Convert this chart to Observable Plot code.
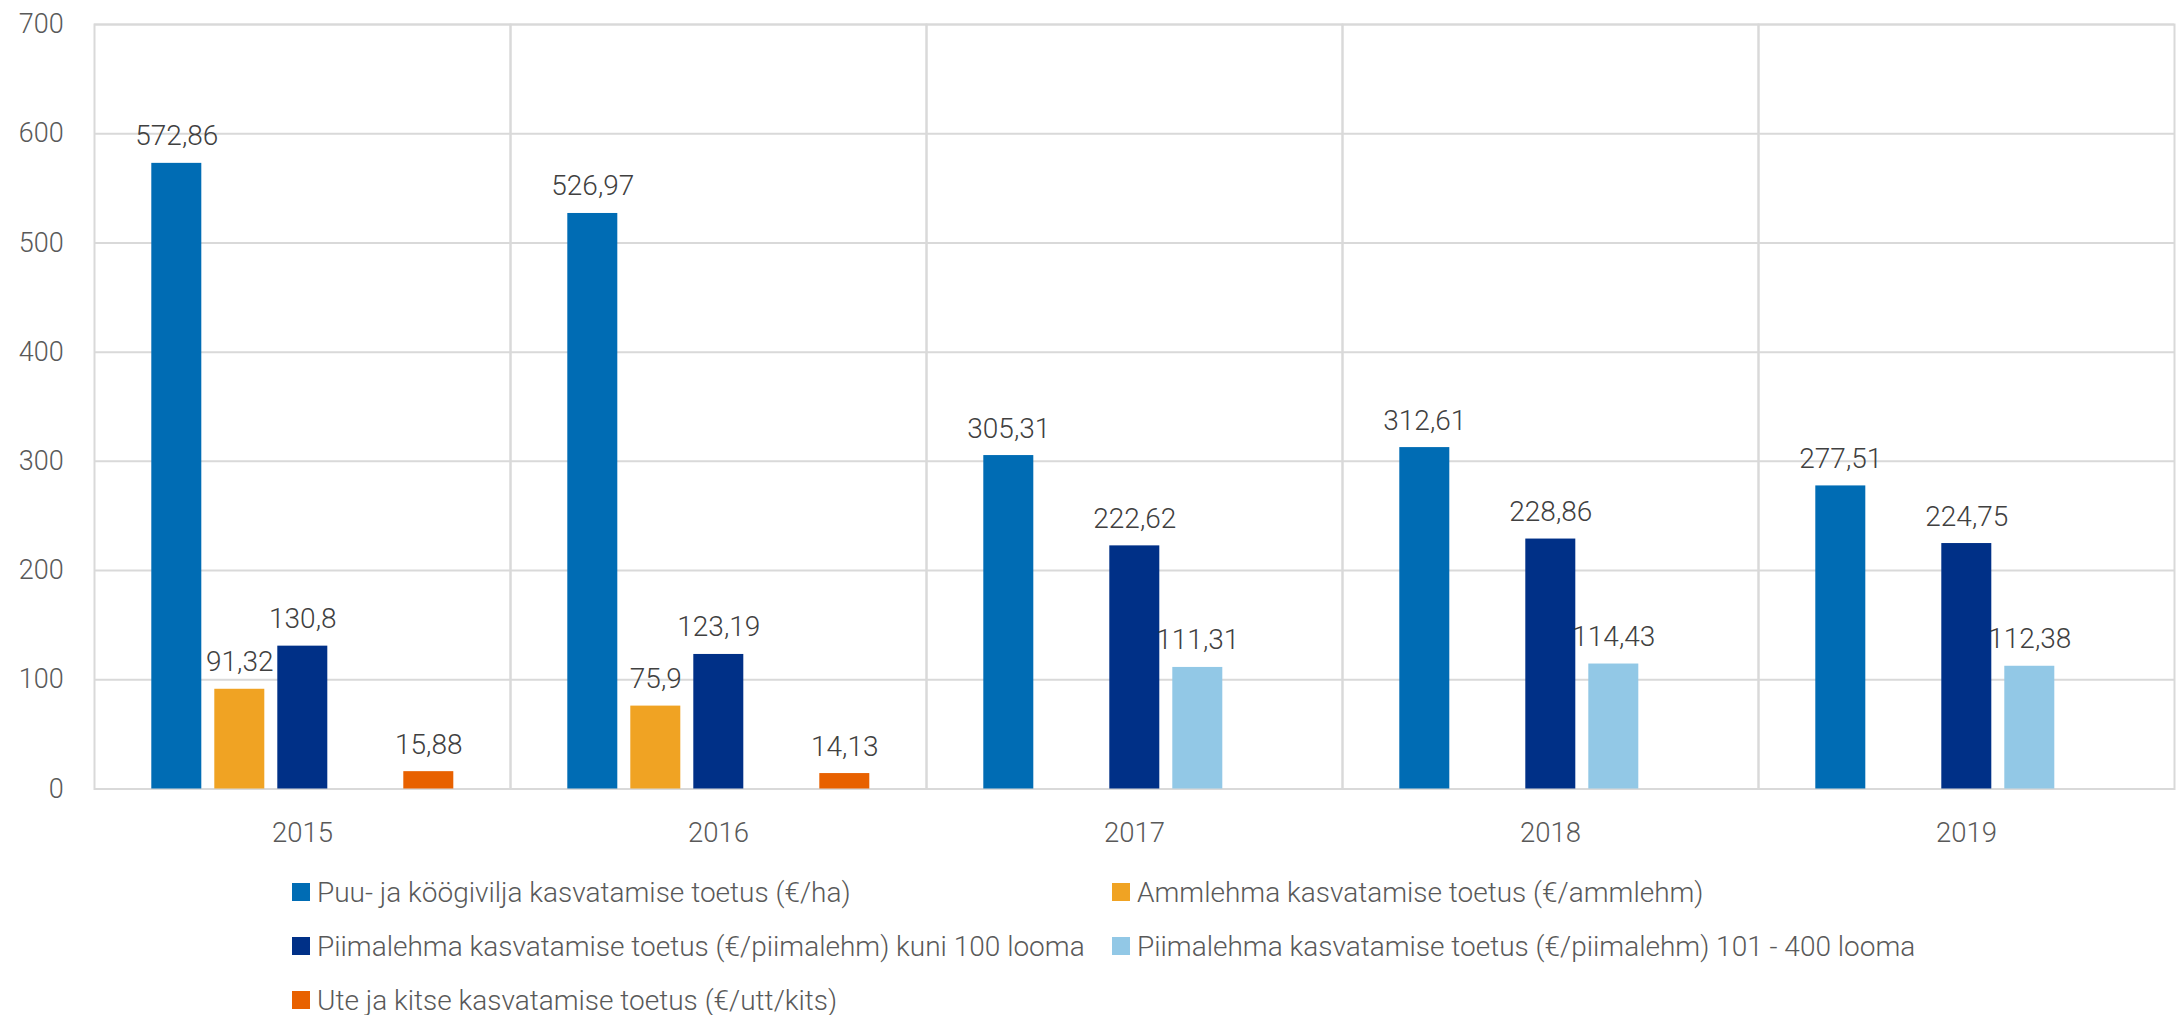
<!DOCTYPE html>
<html>
<head>
<meta charset="utf-8">
<script src="https://cdn.jsdelivr.net/npm/d3@7"></script>
<script src="https://cdn.jsdelivr.net/npm/@observablehq/plot@0.6"></script>
<style>
  html, body { margin: 0; padding: 0; background: #ffffff; overflow: hidden; }
  #chart svg { display: block; }
  .legend {
    display: grid;
    grid-template-columns: 820px 820px;
    grid-auto-rows: 54px;
    align-items: center;
    margin-left: 292px;
    margin-top: 3px;
    font-family: Roboto, "Noto Sans", sans-serif;
    font-weight: 300;
    font-size: 28px;
    color: #595959;
  }
  .legend .item { display: flex; align-items: center; white-space: nowrap; }
  .legend .sw { width: 18px; height: 18px; margin-right: 7px; flex: none; }
</style>
</head>
<body>
<div id="chart"></div>
<div class="legend" id="legend"></div>
<script>
const years = ["2015", "2016", "2017", "2018", "2019"];
const seriesNames = [
  "Puu- ja köögivilja kasvatamise toetus (€/ha)",
  "Ammlehma kasvatamise toetus (€/ammlehm)",
  "Piimalehma kasvatamise toetus (€/piimalehm) kuni 100 looma",
  "Piimalehma kasvatamise toetus (€/piimalehm) 101 - 400 looma",
  "Ute ja kitse kasvatamise toetus (€/utt/kits)"
];
const seriesColors = ["#006cb4", "#f0a323", "#003087", "#92c8e6", "#e86100"];
const puuValues = [572.86, 526.97, 305.31, 312.61, 277.51];
const ammValues = [91.32, 75.9, null, null, null];
const piim100Values = [130.8, 123.19, 222.62, 228.86, 224.75];
const piim400Values = [null, null, 111.31, 114.43, 112.38];
const uteValues = [15.88, 14.13, null, null, null];
const yTicks = [0, 100, 200, 300, 400, 500, 600, 700];

const seriesValues = [puuValues, ammValues, piim100Values, piim400Values, uteValues];
const data = [];
years.forEach((year, i) => {
  seriesNames.forEach((s, j) => {
    const v = seriesValues[j][i];
    if (v != null) data.push({year, series: s, value: v});
  });
});
const fmt = v => String(v).replace(".", ",");

const chart = Plot.plot({
  width: 2178,
  height: 862,
  marginLeft: 91.7,
  marginRight: 2,
  marginTop: 24,
  marginBottom: 73.5,
  style: {fontFamily: "Roboto, 'Noto Sans', sans-serif", fontSize: "27px", fontWeight: 300, color: "#595959", background: "#ffffff"},
  fx: {domain: years, padding: 0, label: null},
  x: {domain: seriesNames, paddingInner: 0.212, paddingOuter: 0.858, axis: null},
  y: {domain: [0, 700], label: null},
  color: {domain: seriesNames, range: seriesColors},
  marks: [
    Plot.gridY(yTicks, {stroke: "#d9d9d9", strokeOpacity: 1, strokeWidth: 2}),
    Plot.frame({stroke: "#d9d9d9", strokeWidth: 2}),
    Plot.barY(data, {fx: "year", x: "series", y: "value", fill: "series"}),
    Plot.text(data, {fx: "year", x: "series", y: "value", text: d => fmt(d.value), lineAnchor: "bottom", dy: -18, fill: "#404040", fontSize: 28}),
    Plot.axisY(yTicks, {tickSize: 0, tickPadding: 30.7, fontSize: 27, label: null}),
    Plot.axisFx({anchor: "bottom", tickSize: 0, tickPadding: 33, fontSize: 27.5, label: null})
  ]
});
document.getElementById("chart").appendChild(chart);

const legend = document.getElementById("legend");
seriesNames.forEach((s, i) => {
  const item = document.createElement("div");
  item.className = "item";
  const sw = document.createElement("span");
  sw.className = "sw";
  sw.style.background = seriesColors[i];
  const t = document.createElement("span");
  t.textContent = s;
  item.appendChild(sw);
  item.appendChild(t);
  legend.appendChild(item);
});
</script>
</body>
</html>
